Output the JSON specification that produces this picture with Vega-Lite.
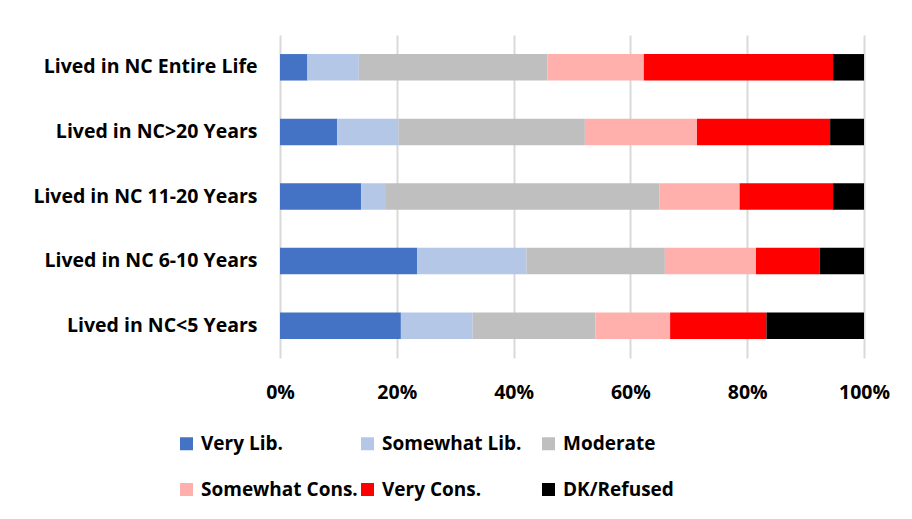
{
  "$schema": "https://vega.github.io/schema/vega-lite/v6.json",
  "width": 584,
  "height": 323,
  "autosize": {"type": "none"},
  "padding": {"left": 280, "top": 35, "right": 48, "bottom": 161},
  "background": "white",
  "data": {
    "values": [
      {"group": "Lived in NC Entire Life", "ideology": "Very Lib.", "order": 1, "pct": 4.7},
      {"group": "Lived in NC Entire Life", "ideology": "Somewhat Lib.", "order": 2, "pct": 8.8},
      {"group": "Lived in NC Entire Life", "ideology": "Moderate", "order": 3, "pct": 32.3},
      {"group": "Lived in NC Entire Life", "ideology": "Somewhat Cons.", "order": 4, "pct": 16.5},
      {"group": "Lived in NC Entire Life", "ideology": "Very Cons.", "order": 5, "pct": 32.4},
      {"group": "Lived in NC Entire Life", "ideology": "DK/Refused", "order": 6, "pct": 5.3},
      {"group": "Lived in NC>20 Years", "ideology": "Very Lib.", "order": 1, "pct": 9.8},
      {"group": "Lived in NC>20 Years", "ideology": "Somewhat Lib.", "order": 2, "pct": 10.5},
      {"group": "Lived in NC>20 Years", "ideology": "Moderate", "order": 3, "pct": 31.9},
      {"group": "Lived in NC>20 Years", "ideology": "Somewhat Cons.", "order": 4, "pct": 19.2},
      {"group": "Lived in NC>20 Years", "ideology": "Very Cons.", "order": 5, "pct": 22.8},
      {"group": "Lived in NC>20 Years", "ideology": "DK/Refused", "order": 6, "pct": 5.8},
      {"group": "Lived in NC 11-20 Years", "ideology": "Very Lib.", "order": 1, "pct": 13.9},
      {"group": "Lived in NC 11-20 Years", "ideology": "Somewhat Lib.", "order": 2, "pct": 4.1},
      {"group": "Lived in NC 11-20 Years", "ideology": "Moderate", "order": 3, "pct": 47.0},
      {"group": "Lived in NC 11-20 Years", "ideology": "Somewhat Cons.", "order": 4, "pct": 13.7},
      {"group": "Lived in NC 11-20 Years", "ideology": "Very Cons.", "order": 5, "pct": 16.0},
      {"group": "Lived in NC 11-20 Years", "ideology": "DK/Refused", "order": 6, "pct": 5.3},
      {"group": "Lived in NC 6-10 Years", "ideology": "Very Lib.", "order": 1, "pct": 23.5},
      {"group": "Lived in NC 6-10 Years", "ideology": "Somewhat Lib.", "order": 2, "pct": 18.7},
      {"group": "Lived in NC 6-10 Years", "ideology": "Moderate", "order": 3, "pct": 23.7},
      {"group": "Lived in NC 6-10 Years", "ideology": "Somewhat Cons.", "order": 4, "pct": 15.6},
      {"group": "Lived in NC 6-10 Years", "ideology": "Very Cons.", "order": 5, "pct": 10.9},
      {"group": "Lived in NC 6-10 Years", "ideology": "DK/Refused", "order": 6, "pct": 7.6},
      {"group": "Lived in NC<5 Years", "ideology": "Very Lib.", "order": 1, "pct": 20.7},
      {"group": "Lived in NC<5 Years", "ideology": "Somewhat Lib.", "order": 2, "pct": 12.3},
      {"group": "Lived in NC<5 Years", "ideology": "Moderate", "order": 3, "pct": 21.0},
      {"group": "Lived in NC<5 Years", "ideology": "Somewhat Cons.", "order": 4, "pct": 12.8},
      {"group": "Lived in NC<5 Years", "ideology": "Very Cons.", "order": 5, "pct": 16.5},
      {"group": "Lived in NC<5 Years", "ideology": "DK/Refused", "order": 6, "pct": 16.7}
    ]
  },
  "mark": {"type": "bar"},
  "encoding": {
    "y": {
      "field": "group",
      "type": "nominal",
      "sort": ["Lived in NC Entire Life", "Lived in NC>20 Years", "Lived in NC 11-20 Years", "Lived in NC 6-10 Years", "Lived in NC<5 Years"],
      "scale": {"paddingInner": 0.59, "paddingOuter": 0.295},
      "axis": {
        "title": null,
        "domain": false,
        "ticks": false,
        "labelFont": "Open Sans",
        "labelFontWeight": "bold",
        "labelFontSize": 19.5,
        "labelColor": "black",
        "labelPadding": 23,
        "labelLimit": 300
      }
    },
    "x": {
      "field": "pct",
      "type": "quantitative",
      "stack": "normalize",
      "scale": {"domain": [0, 1]},
      "axis": {
        "title": null,
        "format": ".0%",
        "values": [0, 0.2, 0.4, 0.6, 0.8, 1],
        "domain": false,
        "ticks": false,
        "grid": true,
        "gridColor": "#d9d9d9",
        "gridWidth": 2,
        "labelFont": "Open Sans",
        "labelFontWeight": "bold",
        "labelFontSize": 19.5,
        "labelColor": "black",
        "labelPadding": 25,
        "labelFlush": false
      }
    },
    "color": {
      "field": "ideology",
      "type": "nominal",
      "sort": ["Very Lib.", "Somewhat Lib.", "Moderate", "Somewhat Cons.", "Very Cons.", "DK/Refused"],
      "scale": {
        "domain": ["Very Lib.", "Somewhat Lib.", "Moderate", "Somewhat Cons.", "Very Cons.", "DK/Refused"],
        "range": ["#4472c4", "#b4c7e7", "#bfbfbf", "#ffb0ad", "#ff0000", "#000000"]
      },
      "legend": {
        "title": null,
        "orient": "none",
        "legendX": -103,
        "legendY": 399,
        "direction": "horizontal",
        "columns": 3,
        "gridAlign": "all",
        "columnPadding": -7,
        "rowPadding": 26,
        "symbolType": "square",
        "symbolSize": 169,
        "symbolStrokeWidth": 0,
        "labelFont": "Open Sans",
        "labelFontWeight": "bold",
        "labelFontSize": 19,
        "labelColor": "black",
        "labelOffset": 5,
        "labelLimit": 300
      }
    },
    "order": {"field": "order", "type": "quantitative"}
  },
  "config": {
    "view": {"stroke": null}
  }
}
